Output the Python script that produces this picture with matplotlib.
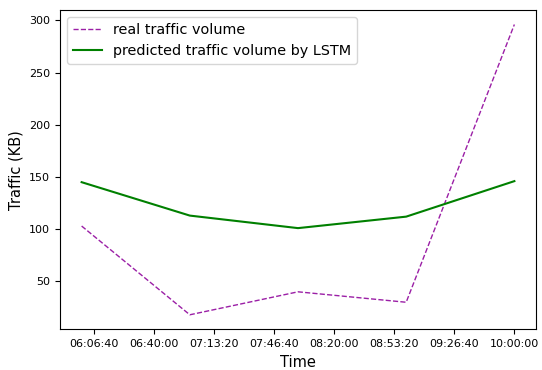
import pandas as pd
import matplotlib
matplotlib.use("Agg")
import matplotlib.pyplot as plt
import matplotlib.dates as mdates

# hourly samples
times = ["06:00:00", "07:00:00", "08:00:00", "09:00:00", "10:00:00"]
real_kb = [103, 18, 40, 30, 296]
lstm_kb = [145, 113, 101, 112, 146]

day = "2018-01-01 "
t = pd.to_datetime([day + s for s in times])

fig = plt.figure(figsize=(5.42, 3.70), dpi=100)
ax = fig.add_axes([60 / 542, 40.7 / 370, 476 / 542, 319.3 / 370])

ax.plot(t, real_kb, "--", color="#9b1fa6", linewidth=1.0, label="real traffic volume")
ax.plot(t, lstm_kb, "-", color="green", linewidth=1.5,
        label="predicted traffic volume by LSTM")

# ticks every 2000 seconds
ticks = pd.date_range(day + "06:06:40", day + "10:00:00", freq="2000s")
ax.set_xticks(ticks)
ax.xaxis.set_major_formatter(mdates.DateFormatter("%H:%M:%S"))
ax.tick_params(labelsize=8)

ax.set_xlabel("Time", fontsize=10.5)
ax.set_ylabel("Traffic (KB)", fontsize=10.5)
ax.legend(loc="upper left", fontsize=10.4)

fig.savefig("out.png", dpi=100)
